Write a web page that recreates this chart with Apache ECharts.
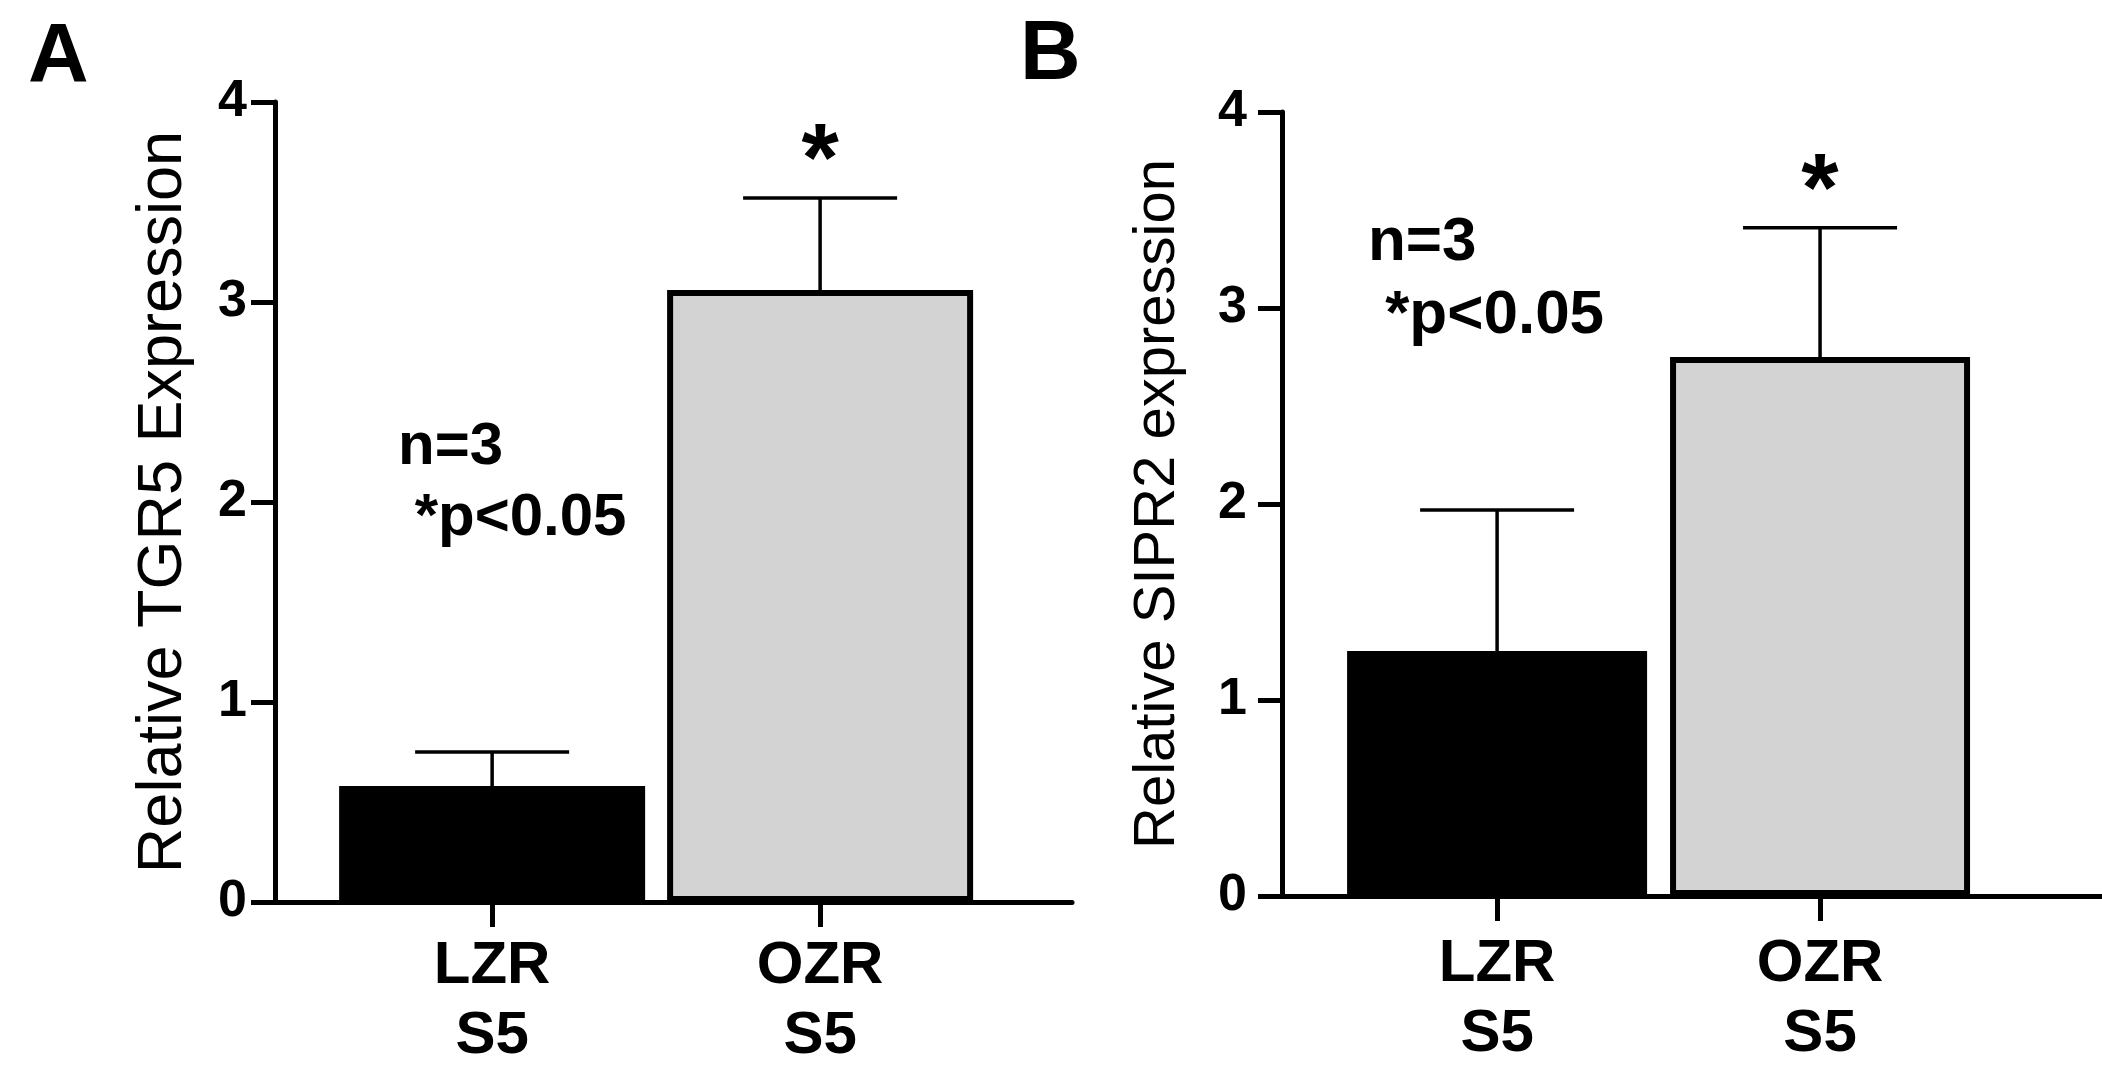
<!DOCTYPE html>
<html>
<head>
<meta charset="utf-8">
<script src="https://cdn.jsdelivr.net/npm/echarts@6/dist/echarts.min.js"></script>
<style>
html, body { margin: 0; padding: 0; background: #fff; }
#main { width: 2102px; height: 1080px; }
</style>
</head>
<body>
<div id="main"></div>
<script>
// data
var groups = ['LZR\nS5', 'OZR\nS5'];
var tgr5Mean = [0.58, 3.06];
var tgr5Sem = [0.17, 0.46];
var sipr2Mean = [1.25, 2.75];
var sipr2Sem = [0.72, 0.66];
var sigMarks = ['', '*'];
var barColors = ['#000000', '#d3d3d3'];

var FONT = '"Liberation Sans", Arial, Helvetica, sans-serif';

function barData(means) {
    return means.map(function (v, i) {
        return { value: [i, v], itemStyle: { color: barColors[i] } };
    });
}
function errData(means, sems) {
    return means.map(function (v, i) { return [i, v, sems[i]]; });
}

// error bar (upper half only, prism style) + significance star
function errorItem(params, api) {
    var x = api.value(0), m = api.value(1), e = api.value(2);
    var base = api.coord([x, m]);
    var top = api.coord([x, m + e]);
    var half = 77;
    var kids = [
        { type: 'line', shape: { x1: base[0], y1: base[1], x2: top[0], y2: top[1] },
          style: { stroke: '#000', lineWidth: 3.5 } },
        { type: 'line', shape: { x1: top[0] - half, y1: top[1], x2: top[0] + half, y2: top[1] },
          style: { stroke: '#000', lineWidth: 3.5 } }
    ];
    var mark = sigMarks[params.dataIndex];
    if (mark) {
        kids.push({ type: 'text', x: top[0], y: top[1] - 34,
            style: { text: mark, font: 'bold 96px ' + FONT, fill: '#000',
                     textAlign: 'center', textVerticalAlign: 'middle' } });
    }
    return { type: 'group', children: kids };
}

function makeX(idx, min, max, margin) {
    return {
        gridIndex: idx, type: 'value', min: min, max: max,
        axisLine: { show: true, onZero: false, lineStyle: { color: '#000', width: 5 } },
        axisTick: { show: true, customValues: [0, 1], length: 25, lineStyle: { color: '#000', width: 5 } },
        axisLabel: {
            customValues: [0, 1], margin: margin,
            formatter: function (v) { return groups[Math.round(v)]; },
            fontSize: 60, fontWeight: 'bold', lineHeight: 70, color: '#000', fontFamily: FONT
        },
        splitLine: { show: false }
    };
}
function makeY(idx, name, nameSize, nameGap, labelMargin) {
    return {
        gridIndex: idx, type: 'value', min: 0, max: 4, interval: 1,
        name: name, nameLocation: 'middle', nameGap: nameGap,
        nameTextStyle: { fontSize: nameSize, color: '#000', fontFamily: FONT },
        axisLine: { show: true, onZero: false, lineStyle: { color: '#000', width: 5 } },
        axisTick: { show: true, length: 24, lineStyle: { color: '#000', width: 5 } },
        axisLabel: { margin: labelMargin, fontSize: 52, fontWeight: 'bold', color: '#000', fontFamily: FONT },
        splitLine: { show: false }
    };
}

var chart = echarts.init(document.getElementById('main'));
var option = {
    backgroundColor: '#fff',
    animation: false,
    title: [
        { text: 'A', left: 28, top: 17, padding: 0,
          textStyle: { fontSize: 84, fontWeight: 'bold', color: '#000', fontFamily: FONT } },
        { text: 'B', left: 1020, top: 14, padding: 0,
          textStyle: { fontSize: 84, fontWeight: 'bold', color: '#000', fontFamily: FONT } },
        { text: 'n=3\n *p<0.05', left: 398, top: 412, padding: 0,
          textStyle: { fontSize: 60, fontWeight: 'bold', lineHeight: 71, color: '#000', fontFamily: FONT } },
        { text: 'n=3\n *p<0.05', left: 1368, top: 206, padding: 0,
          textStyle: { fontSize: 62, fontWeight: 'bold', lineHeight: 73, color: '#000', fontFamily: FONT } }
    ],
    grid: [
        { left: 275, top: 102, width: 797, height: 800 },
        { left: 1282, top: 112, width: 820, height: 784 }
    ],
    xAxis: [
        makeX(0, -0.662, 1.768, 29),
        makeX(1, -0.666, 1.873, 33)
    ],
    yAxis: [
        makeY(0, 'Relative TGR5 Expression', 63, 80, 28),
        makeY(1, 'Relative SIPR2 expression', 58, 95, 35)
    ],
    series: [
        { type: 'bar', xAxisIndex: 0, yAxisIndex: 0, barWidth: 306,
          itemStyle: { borderColor: '#000', borderWidth: 6 }, data: barData(tgr5Mean) },
        { type: 'custom', xAxisIndex: 0, yAxisIndex: 0, renderItem: errorItem,
          encode: { x: 0, y: 1 }, z: 1, data: errData(tgr5Mean, tgr5Sem) },
        { type: 'bar', xAxisIndex: 1, yAxisIndex: 1, barWidth: 300,
          itemStyle: { borderColor: '#000', borderWidth: 6 }, data: barData(sipr2Mean) },
        { type: 'custom', xAxisIndex: 1, yAxisIndex: 1, renderItem: errorItem,
          encode: { x: 0, y: 1 }, z: 1, data: errData(sipr2Mean, sipr2Sem) }
    ]
};
chart.setOption(option);
</script>
</body>
</html>
